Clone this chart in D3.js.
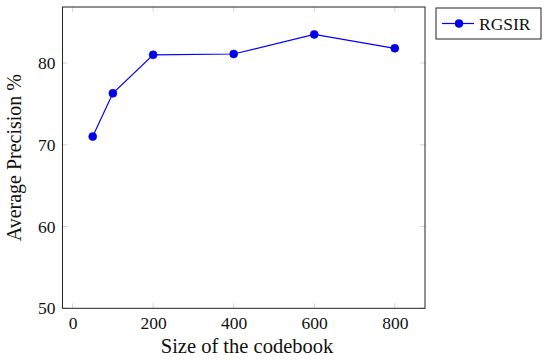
<!DOCTYPE html>
<html><head><meta charset="utf-8">
<script src="https://cdn.jsdelivr.net/npm/d3@7"></script>
<style>body{margin:0;background:#fff}svg{display:block}</style>
</head><body>
<svg id="c" width="550" height="363"></svg>
<script>
const codebookSizes = [50, 100, 200, 400, 600, 800];
const rgsirValues = [71.0, 76.3, 81.0, 81.1, 83.5, 81.8];
const xTicks = [0, 200, 400, 600, 800];
const yTicks = [50, 60, 70, 80];
const seriesName = "RGSIR";

const svg = d3.select("#c");
const font = "'Liberation Serif', 'DejaVu Serif', serif";
const L = 62.5, R = 425, T = 7, B = 308.3;
const x = d3.scaleLinear().domain([-25, 875]).range([L, R]);
const y = d3.scaleLinear().domain([50, 86.85]).range([B, T]);

const tickLen = 5;
const g = svg.append("g");
xTicks.forEach(t => {
  g.append("line").attr("x1", x(t)).attr("x2", x(t)).attr("y1", B).attr("y2", B - tickLen).attr("stroke", "#bbb").attr("stroke-width", 0.6);
  g.append("line").attr("x1", x(t)).attr("x2", x(t)).attr("y1", T).attr("y2", T + tickLen).attr("stroke", "#bbb").attr("stroke-width", 0.6);
});
yTicks.forEach(t => {
  g.append("line").attr("x1", L).attr("x2", L + tickLen).attr("y1", y(t)).attr("y2", y(t)).attr("stroke", "#bbb").attr("stroke-width", 0.6);
  g.append("line").attr("x1", R).attr("x2", R - tickLen).attr("y1", y(t)).attr("y2", y(t)).attr("stroke", "#bbb").attr("stroke-width", 0.6);
});

const xAxis = d3.axisBottom(x).tickValues(xTicks).tickSize(0).tickPadding(8);
const xa = svg.append("g").attr("transform", `translate(0,${B})`).call(xAxis);
xa.select(".domain").remove();
xa.selectAll("text").attr("font-family", font).attr("font-size", 17.5).attr("fill", "#111");

const yAxis = d3.axisLeft(y).tickValues(yTicks).tickSize(0).tickPadding(7);
const ya = svg.append("g").attr("transform", `translate(${L},0)`).call(yAxis);
ya.select(".domain").remove();
ya.selectAll("text").attr("font-family", font).attr("font-size", 17.5).attr("fill", "#111");

svg.append("rect").attr("x", L).attr("y", T).attr("width", R - L).attr("height", B - T)
  .attr("fill", "none").attr("stroke", "#222").attr("stroke-width", 1);

const pts = codebookSizes.map((c, i) => [c, rgsirValues[i]]);
svg.append("path").datum(pts)
  .attr("d", d3.line().x(d => x(d[0])).y(d => y(d[1])))
  .attr("fill", "none").attr("stroke", "#0000ff").attr("stroke-width", 1.2);
svg.selectAll("circle.pt").data(pts).enter().append("circle")
  .attr("class", "pt").attr("cx", d => x(d[0])).attr("cy", d => y(d[1])).attr("r", 4)
  .attr("fill", "#0000e0").attr("stroke", "#0000ff").attr("stroke-width", 0.6);

svg.append("text").attr("x", 247).attr("y", 353).attr("text-anchor", "middle")
  .attr("font-family", font).attr("font-size", 20.5).attr("fill", "#111").text("Size of the codebook");
svg.append("text").attr("transform", `translate(21,${(T + B) / 2}) rotate(-90)`).attr("text-anchor", "middle")
  .attr("font-family", font).attr("font-size", 20).attr("fill", "#111").text("Average Precision %");

const lg = svg.append("g");
lg.append("rect").attr("x", 436).attr("y", 8).attr("width", 105).attr("height", 31)
  .attr("fill", "#fff").attr("stroke", "#222").attr("stroke-width", 1);
lg.append("line").attr("x1", 442).attr("x2", 474).attr("y1", 23.5).attr("y2", 23.5).attr("stroke", "#0000ff").attr("stroke-width", 1.2);
lg.append("circle").attr("cx", 459).attr("cy", 23.5).attr("r", 4).attr("fill", "#0000e0").attr("stroke", "#0000ff").attr("stroke-width", 0.6);
lg.append("text").attr("x", 479).attr("y", 29.5).attr("font-family", font).attr("font-size", 17.5).attr("fill", "#111").text(seriesName);
</script>
</body></html>
